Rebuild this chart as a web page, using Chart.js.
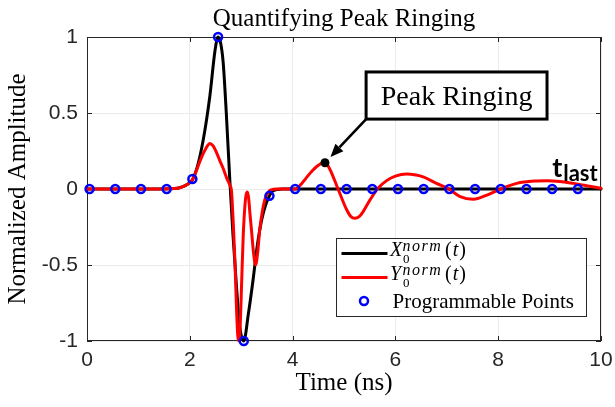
<!DOCTYPE html>
<html><head><meta charset="utf-8">
<script src="https://cdn.jsdelivr.net/npm/chart.js@4.4.1/dist/chart.umd.min.js"></script>
<style>html,body{margin:0;padding:0;background:#fff;}canvas{display:block;}</style>
</head><body>
<canvas id="c" width="615" height="407"></canvas>
<script>
// ---- data ----
const xTicks = [0, 2, 4, 6, 8, 10];
const yTicks = [-1, -0.5, 0, 0.5, 1];

// X0^norm(t) (black)
const xTime = [0, 1.5, 1.7, 1.8, 1.9, 2.0, 2.06, 2.15, 2.26, 2.39, 2.49, 2.55, 2.6, 2.65, 2.71, 2.78, 2.84, 2.91, 2.97, 3.05, 3.14, 3.23, 3.31, 3.40, 3.48, 3.55, 3.62, 3.8, 4.0, 6.0, 8.0, 10];
const xAmp  = [0, 0, 0.003, 0.008, 0.02, 0.042, 0.066, 0.15, 0.32, 0.61, 0.91, 1.0, 0.96, 0.83, 0.5, 0.05, -0.3, -0.65, -0.9, -1.0, -0.82, -0.6, -0.38, -0.2, -0.1, -0.045, -0.012, 0, 0, 0, 0, 0];

// Y0^norm(t) (red)
const yTime = [0, 1.5, 1.7, 1.8, 1.9, 2.0, 2.06, 2.15, 2.23, 2.31, 2.39, 2.45, 2.52, 2.58, 2.65, 2.72, 2.78, 2.81, 2.845, 2.88, 2.91, 2.935, 2.955, 2.98, 3.01, 3.04, 3.07, 3.095, 3.12, 3.145, 3.17, 3.20, 3.24, 3.28, 3.32, 3.36, 3.41, 3.46, 3.52, 3.58, 3.7, 4.04, 4.15, 4.27, 4.37, 4.47, 4.55, 4.63, 4.71, 4.79, 4.86, 4.92, 5.05, 5.13, 5.21, 5.3, 5.37, 5.51, 5.66, 5.83, 6.0, 6.22, 6.4, 6.54, 6.80, 7.04, 7.26, 7.52, 7.78, 8.05, 8.36, 8.75, 8.95, 9.2, 9.46, 9.75, 10];
const yAmp  = [0, 0, 0.003, 0.008, 0.02, 0.042, 0.066, 0.14, 0.21, 0.265, 0.30, 0.285, 0.24, 0.19, 0.135, 0.07, 0.025, -0.01, -0.22, -0.49, -0.8, -0.97, -1.0, -0.9, -0.6, -0.3, -0.12, -0.04, -0.02, -0.06, -0.16, -0.27, -0.42, -0.50, -0.42, -0.27, -0.15, -0.07, -0.025, -0.006, 0, 0, 0.025, 0.075, 0.115, 0.148, 0.167, 0.173, 0.14, 0.08, 0.02, -0.03, -0.135, -0.18, -0.193, -0.18, -0.15, -0.07, 0.005, 0.055, 0.085, 0.099, 0.092, 0.08, 0.037, 0, -0.05, -0.068, -0.04, 0, 0.037, 0.053, 0.055, 0.05, 0.037, 0.02, 0.005];

// Programmable points (blue circles)
const progTime = [0.05, 0.55, 1.05, 1.55, 2.05, 2.55, 3.05, 3.55, 4.05, 4.55, 5.05, 5.55, 6.05, 6.55, 7.05, 7.55, 8.05, 8.55, 9.05, 9.55];
const progAmp  = [0, 0, 0, 0, 0.066, 1, -1, -0.045, 0, 0, 0, 0, 0, 0, 0, 0, 0, 0, 0, 0];

// Peak ringing marker
const peakTime = [4.63];
const peakAmp  = [0.173];

// Text
const titleText = 'Quantifying Peak Ringing';
const xLabel = 'Time (ns)';
const yLabel = 'Normalized Amplitude';
const legendNames = ['X', 'Y', 'Programmable Points'];
const calloutText = 'Peak Ringing';

// Callout placement (data units)
const calloutBox = { x0: 5.43, x1: 8.95, y0: 0.46, y1: 0.77 };
const tLastAt = { x: 9.05, y: 0.081 };

const pts = (xs, ys) => xs.map((x, i) => ({ x: x, y: ys[i] }));

const SERIF = '"Liberation Serif", "DejaVu Serif", serif';
const SANS = '"Liberation Sans", Arial, sans-serif';

const frame = {
  id: 'frame',
  beforeDatasetsDraw(chart) {
    const { ctx, chartArea: a, scales } = chart;
    ctx.save();
    ctx.strokeStyle = '#262626';
    ctx.lineWidth = 1;
    ctx.beginPath();
    xTicks.forEach(v => {
      const p = Math.round(scales.x.getPixelForValue(v)) + 0.5;
      ctx.moveTo(p, a.bottom); ctx.lineTo(p, a.bottom - 5);
      ctx.moveTo(p, a.top); ctx.lineTo(p, a.top + 5);
    });
    yTicks.forEach(v => {
      const p = Math.round(scales.y.getPixelForValue(v)) + 0.5;
      ctx.moveTo(a.left, p); ctx.lineTo(a.left + 5, p);
      ctx.moveTo(a.right, p); ctx.lineTo(a.right - 5, p);
    });
    ctx.stroke();
    ctx.strokeRect(Math.round(a.left) + 0.5, Math.round(a.top) + 0.5, Math.round(a.right - a.left) - 1, Math.round(a.bottom - a.top) - 1);
    ctx.restore();
  }
};

const callout = {
  id: 'callout',
  afterDatasetsDraw(chart) {
    const { ctx, scales } = chart;
    const X = v => scales.x.getPixelForValue(v), Y = v => scales.y.getPixelForValue(v);
    ctx.save();
    // arrow
    const tx = X(calloutBox.x0) + 1, ty = Y(calloutBox.y0) - 1;
    const dx = X(peakTime[0]), dy = Y(peakAmp[0]);
    let ux = tx - dx, uy = ty - dy; const L = Math.hypot(ux, uy); ux /= L; uy /= L;
    const tipx = dx + ux * 8, tipy = dy + uy * 8;
    const bx = tipx + ux * 13, by = tipy + uy * 13;
    ctx.strokeStyle = '#000'; ctx.fillStyle = '#000'; ctx.lineWidth = 2.6;
    ctx.beginPath(); ctx.moveTo(tx, ty); ctx.lineTo(bx, by); ctx.stroke();
    ctx.beginPath(); ctx.moveTo(tipx, tipy);
    ctx.lineTo(bx - uy * 5.5, by + ux * 5.5); ctx.lineTo(bx + uy * 5.5, by - ux * 5.5); ctx.closePath(); ctx.fill();
    // box
    const l = X(calloutBox.x0), r = X(calloutBox.x1), t = Y(calloutBox.y1), b = Y(calloutBox.y0);
    ctx.fillStyle = '#fff'; ctx.fillRect(l, t, r - l, b - t);
    ctx.lineWidth = 3; ctx.strokeStyle = '#000'; ctx.strokeRect(l, t, r - l, b - t);
    ctx.fillStyle = '#000'; ctx.font = '28px ' + SERIF; ctx.textAlign = 'center'; ctx.textBaseline = 'alphabetic';
    ctx.fillText(calloutText, (l + r) / 2, b - 14);
    // t_last
    const lx = X(tLastAt.x), ly = Y(tLastAt.y);
    ctx.textAlign = 'left';
    ctx.font = 'bold 27px Lato, ' + SANS;
    ctx.fillText('t', lx, ly);
    const w = ctx.measureText('t').width;
    ctx.font = 'bold 22px Lato, ' + SANS;
    ctx.fillText('last', lx + w + 1, ly + 4);
    ctx.restore();
  }
};

const legendBox = {
  id: 'legendBox',
  afterDraw(chart) {
    const { ctx, chartArea: a } = chart;
    const x0 = Math.round(a.right - 265) + 0.5, y0 = Math.round(a.bottom - 103) + 0.5, w = 250, h = 78;
    ctx.save();
    ctx.fillStyle = '#fff'; ctx.fillRect(x0, y0, w, h);
    ctx.strokeStyle = '#262626'; ctx.lineWidth = 1; ctx.strokeRect(x0, y0, w, h);
    const rows = [y0 + 15, y0 + 39];
    const cols = ['#000000', '#ff0000'];
    ctx.lineWidth = 3;
    rows.forEach((ry, i) => {
      ctx.strokeStyle = cols[i];
      ctx.beginPath(); ctx.moveTo(x0 + 5, ry); ctx.lineTo(x0 + 51, ry); ctx.stroke();
    });
    ctx.strokeStyle = '#0000ff'; ctx.lineWidth = 2.5;
    ctx.beginPath(); ctx.arc(x0 + 27.5, y0 + 62.5, 4, 0, Math.PI * 2); ctx.stroke();
    const tx = x0 + 53.5;
    ctx.fillStyle = '#000'; ctx.textBaseline = 'alphabetic'; ctx.textAlign = 'left';
    [0, 1].forEach(i => {
      const base = rows[i] + 2.7;
      ctx.font = 'italic 20px ' + SERIF;
      ctx.fillText(legendNames[i], tx, base);
      ctx.font = 'italic 16px ' + SERIF;
      ctx.letterSpacing = '1.5px';
      ctx.fillText('norm', tx + 12.5, base - 5.3);
      ctx.letterSpacing = '0px';
      ctx.font = '13px ' + SERIF;
      ctx.fillText('0', tx + 13, base + 7);
      ctx.font = '20px ' + SERIF;
      ctx.fillText('(', tx + 55, base);
      const pw = ctx.measureText('(').width;
      ctx.font = 'italic 20px ' + SERIF;
      ctx.fillText('t', tx + 56 + pw, base);
      const tw = ctx.measureText('t').width;
      ctx.font = '20px ' + SERIF;
      ctx.fillText(')', tx + 57 + pw + tw, base);
    });
    ctx.font = '21px ' + SERIF;
    ctx.fillText(legendNames[2], tx + 2.5, y0 + 69);
    ctx.restore();
  }
};

new Chart(document.getElementById('c'), {
  type: 'line',
  data: {
    datasets: [
      { label: legendNames[2], data: pts(progTime, progAmp), showLine: false, pointStyle: 'circle', pointRadius: 4, pointBorderWidth: 2.5, pointBorderColor: '#0000ff', pointBackgroundColor: 'rgba(0,0,0,0)', borderColor: '#0000ff', clip: false, order: 0 },
      { label: 'Peak', data: pts(peakTime, peakAmp), showLine: false, pointRadius: 4.5, pointBorderWidth: 0, pointBackgroundColor: '#000', pointBorderColor: '#000', clip: false, order: 1 },
      { label: 'Y0norm(t)', data: pts(yTime, yAmp), borderColor: '#ff0000', borderWidth: 3, pointRadius: 0, cubicInterpolationMode: 'monotone', fill: false, borderJoinStyle: 'round', borderCapStyle: 'round', clip: false, order: 2 },
      { label: 'X0norm(t)', data: pts(xTime, xAmp), borderColor: '#000000', borderWidth: 3, pointRadius: 0, cubicInterpolationMode: 'monotone', fill: false, borderJoinStyle: 'round', borderCapStyle: 'round', clip: false, order: 3 }
    ]
  },
  options: {
    responsive: false, animation: false, devicePixelRatio: 1,
    layout: { padding: { top: 0, right: 14, left: 0, bottom: 0 } },
    plugins: {
      legend: { display: false }, tooltip: { enabled: false },
      title: { display: true, text: titleText, color: '#000', fullSize: false,
        font: { family: SERIF, size: 25, weight: 'normal', lineHeight: 1 }, padding: { top: 7, bottom: 5 } }
    },
    scales: {
      x: { type: 'linear', min: 0, max: 10,
        afterBuildTicks: s => { s.ticks = xTicks.map(v => ({ value: v })); },
        afterFit: s => { s.height = 66; s.paddingLeft = 0; s.paddingRight = 0; },
        ticks: { font: { family: SANS, size: 21 }, color: '#262626', padding: 7, maxRotation: 0, callback: v => String(v) },
        grid: { color: '#ebebeb', drawTicks: false }, border: { display: false },
        title: { display: true, text: xLabel, color: '#000', font: { family: SERIF, size: 25 }, padding: { top: 0, bottom: 9 } } },
      y: { type: 'linear', min: -1, max: 1,
        afterBuildTicks: s => { s.ticks = yTicks.map(v => ({ value: v })); },
        afterFit: s => { s.width = 87; s.paddingTop = 0; s.paddingBottom = 0; },
        ticks: { font: { family: SANS, size: 21 }, color: '#262626', padding: 9, callback: v => String(v) },
        grid: { color: '#ebebeb', drawTicks: false }, border: { display: false },
        title: { display: true, text: yLabel, color: '#000', font: { family: SERIF, size: 25 }, padding: { top: 3, bottom: 0 } } }
    }
  },
  plugins: [frame, callout, legendBox]
});
</script>
</body></html>
